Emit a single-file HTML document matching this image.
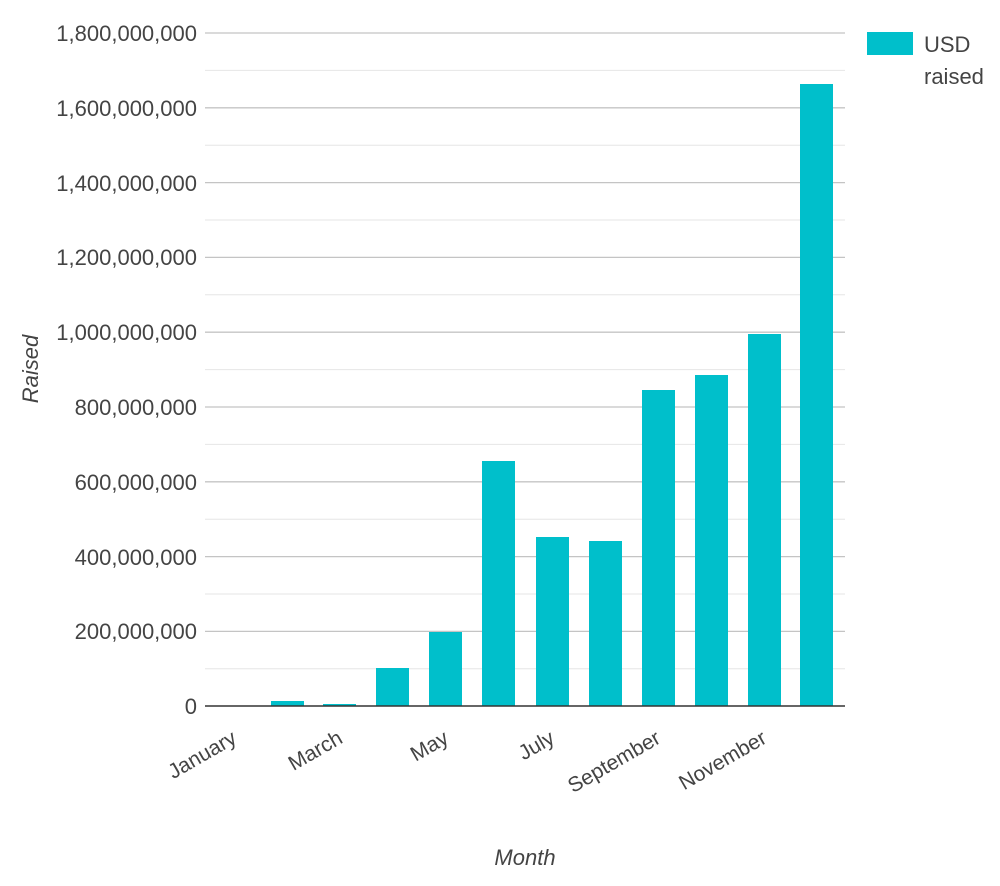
<!DOCTYPE html>
<html><head><style>body{margin:0;background:#fff}svg{display:block}text{font-family:"Liberation Sans",sans-serif;fill:#444}</style></head>
<body>
<svg width="1000" height="886" viewBox="0 0 1000 886">
<g stroke="#e6e6e6" stroke-width="1">
<line x1="205" x2="845" y1="70.4" y2="70.4"/><line x1="205" x2="845" y1="145.2" y2="145.2"/><line x1="205" x2="845" y1="220" y2="220"/><line x1="205" x2="845" y1="294.8" y2="294.8"/><line x1="205" x2="845" y1="369.6" y2="369.6"/><line x1="205" x2="845" y1="444.4" y2="444.4"/><line x1="205" x2="845" y1="519.2" y2="519.2"/><line x1="205" x2="845" y1="594" y2="594"/><line x1="205" x2="845" y1="668.8" y2="668.8"/>
</g>
<g stroke="#c4c4c4" stroke-width="1.3">
<line x1="205" x2="845" y1="33" y2="33"/><line x1="205" x2="845" y1="107.8" y2="107.8"/><line x1="205" x2="845" y1="182.6" y2="182.6"/><line x1="205" x2="845" y1="257.4" y2="257.4"/><line x1="205" x2="845" y1="332.2" y2="332.2"/><line x1="205" x2="845" y1="407" y2="407"/><line x1="205" x2="845" y1="481.8" y2="481.8"/><line x1="205" x2="845" y1="556.6" y2="556.6"/><line x1="205" x2="845" y1="631.4" y2="631.4"/>
</g>
<g fill="#00bfcb">
<rect x="271" y="701" width="33" height="5"/>
<rect x="323" y="704" width="33" height="2"/>
<rect x="376" y="668" width="33" height="38"/>
<rect x="429" y="632" width="33" height="74"/>
<rect x="482" y="461" width="33" height="245"/>
<rect x="536" y="537" width="33" height="169"/>
<rect x="589" y="541" width="33" height="165"/>
<rect x="642" y="390" width="33" height="316"/>
<rect x="695" y="375" width="33" height="331"/>
<rect x="748" y="334" width="33" height="372"/>
<rect x="800" y="84" width="33" height="622"/>
</g>
<line x1="205" x2="845" y1="706" y2="706" stroke="#333" stroke-width="1.5"/>
<g font-size="22" text-anchor="end">
<text x="197" y="41">1,800,000,000</text><text x="197" y="116">1,600,000,000</text><text x="197" y="191">1,400,000,000</text><text x="197" y="265">1,200,000,000</text><text x="197" y="340">1,000,000,000</text><text x="197" y="415">800,000,000</text><text x="197" y="490">600,000,000</text><text x="197" y="565">400,000,000</text><text x="197" y="639">200,000,000</text><text x="197" y="714">0</text>
</g>
<g font-size="21" text-anchor="end">
<text transform="translate(238,742) rotate(-30)">January</text>
<text transform="translate(344,742) rotate(-30)">March</text>
<text transform="translate(450,742) rotate(-30)">May</text>
<text transform="translate(556,742) rotate(-30)">July</text>
<text transform="translate(662,742) rotate(-30)">September</text>
<text transform="translate(768,742) rotate(-30)">November</text>
</g>
<text x="525" y="865" font-size="22" font-style="italic" text-anchor="middle">Month</text>
<text transform="translate(38,369) rotate(-90)" font-size="22" font-style="italic" text-anchor="middle">Raised</text>
<rect x="867" y="32" width="46" height="23" fill="#00bfcb"/>
<text x="924" y="52" font-size="22">USD</text>
<text x="924" y="84" font-size="22">raised</text>
</svg>
</body></html>
